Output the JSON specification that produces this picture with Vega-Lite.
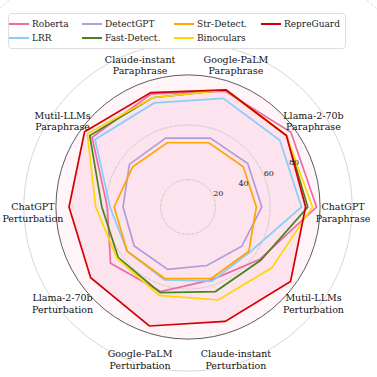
{
  "$schema": "https://vega.github.io/schema/vega-lite/v6.json",
  "width": 320,
  "height": 320,
  "autosize": {"type": "none"},
  "padding": {"left": 28, "top": 47, "right": 29, "bottom": 10},
  "background": "white",
  "config": {"view": {"stroke": null}, "font": "DejaVu Serif", "legend": {"labelFont": "DejaVu Serif"}, "text": {"font": "DejaVu Serif"}},
  "datasets": {
    "scores": [
      {"method": "Roberta", "k": 0, "value": 94}, {"method": "Roberta", "k": 1, "value": 93}, {"method": "Roberta", "k": 2, "value": 89}, {"method": "Roberta", "k": 3, "value": 87}, {"method": "Roberta", "k": 4, "value": 86.7}, {"method": "Roberta", "k": 5, "value": 59}, {"method": "Roberta", "k": 6, "value": 70}, {"method": "Roberta", "k": 7, "value": 65}, {"method": "Roberta", "k": 8, "value": 56}, {"method": "Roberta", "k": 9, "value": 65},
      {"method": "LRR", "k": 0, "value": 83}, {"method": "LRR", "k": 1, "value": 83}, {"method": "LRR", "k": 2, "value": 83.5}, {"method": "LRR", "k": 3, "value": 80}, {"method": "LRR", "k": 4, "value": 84}, {"method": "LRR", "k": 5, "value": 57}, {"method": "LRR", "k": 6, "value": 55}, {"method": "LRR", "k": 7, "value": 56}, {"method": "LRR", "k": 8, "value": 57}, {"method": "LRR", "k": 9, "value": 56},
      {"method": "DetectGPT", "k": 0, "value": 54}, {"method": "DetectGPT", "k": 1, "value": 54}, {"method": "DetectGPT", "k": 2, "value": 53}, {"method": "DetectGPT", "k": 3, "value": 53}, {"method": "DetectGPT", "k": 4, "value": 53}, {"method": "DetectGPT", "k": 5, "value": 47.5}, {"method": "DetectGPT", "k": 6, "value": 48.6}, {"method": "DetectGPT", "k": 7, "value": 48}, {"method": "DetectGPT", "k": 8, "value": 45}, {"method": "DetectGPT", "k": 9, "value": 48.7},
      {"method": "Fast-Detect.", "k": 0, "value": 87.6}, {"method": "Fast-Detect.", "k": 1, "value": 89}, {"method": "Fast-Detect.", "k": 2, "value": 90}, {"method": "Fast-Detect.", "k": 3, "value": 84}, {"method": "Fast-Detect.", "k": 4, "value": 88.8}, {"method": "Fast-Detect.", "k": 5, "value": 63}, {"method": "Fast-Detect.", "k": 6, "value": 63}, {"method": "Fast-Detect.", "k": 7, "value": 65.8}, {"method": "Fast-Detect.", "k": 8, "value": 65}, {"method": "Fast-Detect.", "k": 9, "value": 66},
      {"method": "Str-Detect.", "k": 0, "value": 50}, {"method": "Str-Detect.", "k": 1, "value": 50}, {"method": "Str-Detect.", "k": 2, "value": 49.4}, {"method": "Str-Detect.", "k": 3, "value": 49.4}, {"method": "Str-Detect.", "k": 4, "value": 50}, {"method": "Str-Detect.", "k": 5, "value": 54}, {"method": "Str-Detect.", "k": 6, "value": 55}, {"method": "Str-Detect.", "k": 7, "value": 55}, {"method": "Str-Detect.", "k": 8, "value": 55}, {"method": "Str-Detect.", "k": 9, "value": 55},
      {"method": "Binoculars", "k": 0, "value": 91}, {"method": "Binoculars", "k": 1, "value": 89}, {"method": "Binoculars", "k": 2, "value": 90}, {"method": "Binoculars", "k": 3, "value": 84}, {"method": "Binoculars", "k": 4, "value": 91}, {"method": "Binoculars", "k": 5, "value": 67.5}, {"method": "Binoculars", "k": 6, "value": 64}, {"method": "Binoculars", "k": 7, "value": 68}, {"method": "Binoculars", "k": 8, "value": 71.5}, {"method": "Binoculars", "k": 9, "value": 75.7},
      {"method": "RepreGuard", "k": 0, "value": 86}, {"method": "RepreGuard", "k": 1, "value": 89}, {"method": "RepreGuard", "k": 2, "value": 90}, {"method": "RepreGuard", "k": 3, "value": 88}, {"method": "RepreGuard", "k": 4, "value": 93.5}, {"method": "RepreGuard", "k": 5, "value": 87}, {"method": "RepreGuard", "k": 6, "value": 88}, {"method": "RepreGuard", "k": 7, "value": 91.5}, {"method": "RepreGuard", "k": 8, "value": 88}, {"method": "RepreGuard", "k": 9, "value": 92.7}
    ],
    "axes": [
      {"k": 0, "label": "ChatGPT\nParaphrase"},
      {"k": 1, "label": "Llama-2-70b\nParaphrase"},
      {"k": 2, "label": "Google-PaLM\nParaphrase"},
      {"k": 3, "label": "Claude-instant\nParaphrase"},
      {"k": 4, "label": "Mutil-LLMs\nParaphrase"},
      {"k": 5, "label": "ChatGPT\nPerturbation"},
      {"k": 6, "label": "Llama-2-70b\nPerturbation"},
      {"k": 7, "label": "Google-PaLM\nPerturbation"},
      {"k": 8, "label": "Claude-instant\nPerturbation"},
      {"k": 9, "label": "Mutil-LLMs\nPerturbation"}
    ],
    "grid": [{"r": 20}, {"r": 40}, {"r": 60}, {"r": 80}],
    "outer": [{"r": 96.6}]
  },
  "layer": [
    {
      "data": {"name": "outer"},
      "mark": {"type": "arc", "theta": 0, "theta2": 6.2832, "fill": "#fff4f8", "stroke": null},
      "encoding": {"radius": {"field": "r", "type": "quantitative", "scale": {"type": "linear", "domain": [0, 117], "range": [0, 160], "zero": true}}}
    },
    {
      "data": {"name": "scores"},
      "transform": [
        {"filter": "datum.method === 'RepreGuard'"},
        {"calculate": "datum.value * cos(datum.k * PI / 5)", "as": "x"},
        {"calculate": "datum.value * sin(datum.k * PI / 5)", "as": "y"}
      ],
      "mark": {"type": "line", "interpolate": "linear-closed", "fill": "#fce3ee", "stroke": null},
      "encoding": {
        "x": {"field": "x", "type": "quantitative", "scale": {"domain": [-117, 117]}, "axis": null},
        "y": {"field": "y", "type": "quantitative", "scale": {"domain": [-117, 117]}, "axis": null},
        "order": {"field": "k"}
      }
    },
    {
      "data": {"name": "grid"},
      "mark": {"type": "arc", "theta": 0, "theta2": 6.2832, "fill": null, "stroke": "#c8c8c8", "strokeWidth": 0.7, "strokeDash": [3, 2]},
      "encoding": {"radius": {"field": "r", "type": "quantitative", "scale": {"type": "linear", "domain": [0, 117], "range": [0, 160], "zero": true}}}
    },
    {
      "data": {"name": "outer"},
      "mark": {"type": "arc", "theta": 0, "theta2": 6.2832, "fill": null, "stroke": "#333333", "strokeWidth": 0.8},
      "encoding": {"radius": {"field": "r", "type": "quantitative", "scale": {"type": "linear", "domain": [0, 117], "range": [0, 160], "zero": true}}}
    },
    {
      "data": {"name": "scores"},
      "transform": [
        {"calculate": "datum.value * cos(datum.k * PI / 5)", "as": "x"},
        {"calculate": "datum.value * sin(datum.k * PI / 5)", "as": "y"}
      ],
      "mark": {"type": "line", "interpolate": "linear-closed", "strokeWidth": 1.7},
      "encoding": {
        "x": {"field": "x", "type": "quantitative", "scale": {"domain": [-117, 117]}, "axis": null},
        "y": {"field": "y", "type": "quantitative", "scale": {"domain": [-117, 117]}, "axis": null},
        "order": {"field": "k"},
        "color": {
          "field": "method", "type": "nominal",
          "scale": {
            "domain": ["Roberta", "LRR", "DetectGPT", "Fast-Detect.", "Str-Detect.", "Binoculars", "RepreGuard"],
            "range": ["#ee6aa7", "#87cefa", "#b19cd9", "#47851c", "#ffa500", "#ffd700", "#d40000"]
          },
          "legend": {
            "title": null, "orient": "none", "legendX": -20, "legendY": -34,
            "columns": 4, "symbolType": "M-2,0H2", "symbolSize": 100, "symbolStrokeWidth": 2,
            "labelFont": "DejaVu Serif", "labelFontSize": 9, "labelColor": "#222", "labelOffset": 7,
            "columnPadding": 9, "rowPadding": 3, "padding": 5,
            "strokeColor": "#dddddd", "fillColor": "white", "cornerRadius": 3
          }
        },
        "detail": {"field": "method"}
      }
    },
    {
      "data": {"name": "grid"},
      "transform": [
        {"calculate": "(datum.r + 4) * cos(PI / 8)", "as": "x"},
        {"calculate": "(datum.r + 4) * sin(PI / 8)", "as": "y"},
        {"calculate": "'' + datum.r", "as": "t"}
      ],
      "mark": {"type": "text", "font": "DejaVu Serif", "fontSize": 8, "color": "#222", "align": "center", "baseline": "middle"},
      "encoding": {
        "x": {"field": "x", "type": "quantitative", "scale": {"domain": [-117, 117]}, "axis": null},
        "y": {"field": "y", "type": "quantitative", "scale": {"domain": [-117, 117]}, "axis": null},
        "text": {"field": "t"}
      }
    },
    {
      "data": {"name": "axes"},
      "transform": [
        {"calculate": "113.4 * cos(datum.k * PI / 5)", "as": "x"},
        {"calculate": "113.4 * sin(datum.k * PI / 5)", "as": "y"}
      ],
      "mark": {"type": "text", "font": "DejaVu Serif", "fontSize": 9.5, "color": "#111", "align": "center", "baseline": "middle", "lineBreak": "\n", "lineHeight": 11.5},
      "encoding": {
        "x": {"field": "x", "type": "quantitative", "scale": {"domain": [-117, 117]}, "axis": null},
        "y": {"field": "y", "type": "quantitative", "scale": {"domain": [-117, 117]}, "axis": null},
        "text": {"field": "label"}
      }
    }
  ]
}
